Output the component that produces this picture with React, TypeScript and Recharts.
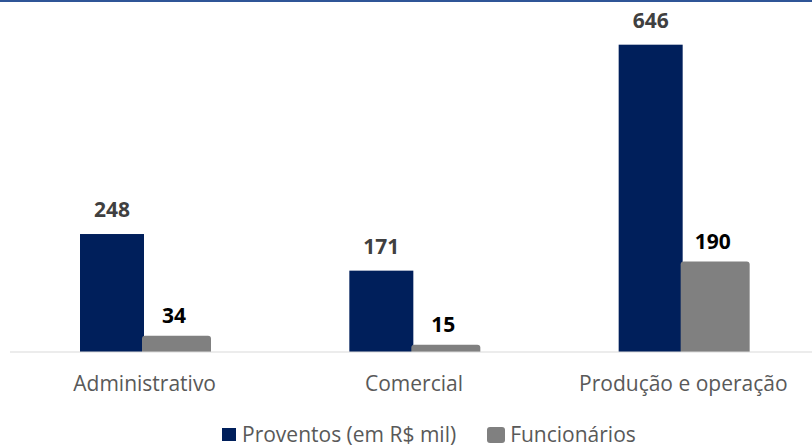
import * as React from 'react';
import { Bar, BarChart, LabelList, XAxis, YAxis } from 'recharts';

const categories = ['Administrativo', 'Comercial', 'Produção e operação'];
const proventos = [248, 171, 646];
const funcionarios = [34, 15, 190];

const data = categories.map((name, i) => ({
  name,
  proventos: proventos[i],
  funcionarios: funcionarios[i],
}));

const BLUE = '#001f5b';
const GRAY = '#808080';
const FONT = '"Open Sans", "Noto Sans", sans-serif';

const BlueBar = (props: any) => {
  const { x, y, width, height } = props;
  return <rect x={x} y={y} width={width - 2} height={height} fill={BLUE} />;
};

const GrayBar = (props: any) => {
  const { x, y, width, height } = props;
  const r = 3;
  const x0 = x - 2;
  const w = width + 3;
  const h = Math.max(height, r);
  const y0 = y + height - h;
  const d = `M${x0},${y0 + h} L${x0},${y0 + r} Q${x0},${y0} ${x0 + r},${y0} L${x0 + w - r},${y0} Q${x0 + w},${y0} ${x0 + w},${y0 + r} L${x0 + w},${y0 + h} Z`;
  return <path d={d} fill={GRAY} />;
};

const CategoryTick = (props: any) => {
  const { x, y, payload } = props;
  return (
    <text x={x} y={y + 39} textAnchor="middle" fill="#595959" fontSize={21} fontFamily={FONT}>
      {payload.value}
    </text>
  );
};

export default function App() {
  return (
    <div style={{ position: 'absolute', left: 0, top: 0, width: 812, height: 448, overflow: 'hidden', background: '#fff' }}>
      <div style={{ position: 'absolute', left: 0, top: 0, width: 812, height: 2, background: '#2f5597' }} />
      <BarChart
        width={818}
        height={448}
        data={data}
        margin={{ top: 19, right: 0, left: 10, bottom: 66 }}
        barGap={-2}
        barSize={66}
      >
        <XAxis
          dataKey="name"
          height={30}
          tickSize={0}
          tickMargin={0}
          axisLine={{ stroke: '#d9d9d9', strokeWidth: 1 }}
          tickLine={false}
          tick={<CategoryTick />}
          interval={0}
        />
        <YAxis hide domain={[0, 700]} />
        <Bar dataKey="proventos" fill={BLUE} shape={<BlueBar />} isAnimationActive={false}>
          <LabelList
            dataKey="proventos"
            position="top"
            offset={17}
            fill="#404040"
            fontSize={21}
            fontWeight={700}
            fontFamily={FONT}
            dx={-1}
          />
        </Bar>
        <Bar dataKey="funcionarios" fill={GRAY} shape={<GrayBar />} isAnimationActive={false}>
          <LabelList
            dataKey="funcionarios"
            position="top"
            offset={13}
            fill="#000000"
            fontSize={21}
            fontWeight={700}
            fontFamily={FONT}
            dx={-3}
          />
        </Bar>
      </BarChart>
      <div
        style={{
          position: 'absolute',
          top: 424,
          left: 222,
          height: 21,
          display: 'flex',
          alignItems: 'center',
          fontFamily: FONT,
          fontSize: 21,
          lineHeight: '21px',
          color: '#595959',
          whiteSpace: 'nowrap',
        }}
      >
        <span style={{ display: 'inline-block', width: 14, height: 13, background: BLUE, marginRight: 6 }} />
        <span>Proventos (em R$ mil)</span>
        <span style={{ display: 'inline-block', width: 18, height: 16, background: GRAY, borderRadius: 3, marginLeft: 31, marginRight: 5 }} />
        <span>Funcionários</span>
      </div>
    </div>
  );
}
